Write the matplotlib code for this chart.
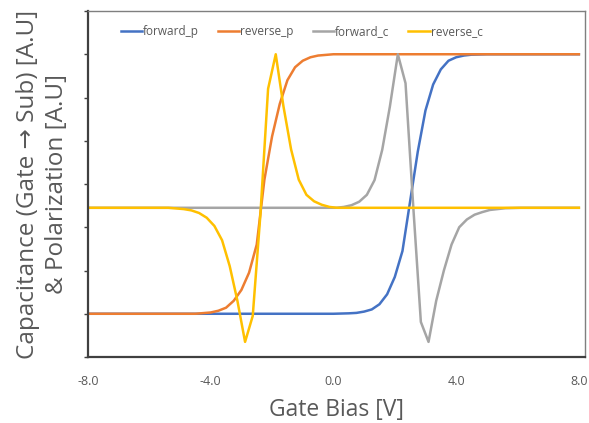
import numpy as np
import matplotlib.pyplot as plt

plt.rcParams['font.family'] = ['Open Sans', 'DejaVu Sans']

# data (y in arbitrary units, 0..8 axis)
fp_x = [-8, 0, 0.5, 0.75, 1.0, 1.25, 1.5, 1.75, 2.0, 2.25, 2.5, 2.75, 3.0,
        3.25, 3.5, 3.75, 4.0, 4.25, 4.5, 5.0, 8]
fp_y = [1.0, 1.0, 1.01, 1.02, 1.05, 1.1, 1.22, 1.45, 1.85, 2.45, 3.6, 4.75, 5.7,
        6.3, 6.65, 6.85, 6.93, 6.97, 6.99, 7.0, 7.0]

rp_x = [-8, -4.5, -4.0, -3.75, -3.5, -3.25, -3.0, -2.75, -2.5, -2.25, -2.0,
        -1.75, -1.5, -1.25, -1.0, -0.75, -0.5, 0, 8]
rp_y = [1.0, 1.0, 1.03, 1.07, 1.14, 1.3, 1.55, 1.95, 2.6, 4.1, 5.1,
        5.85, 6.4, 6.7, 6.85, 6.93, 6.97, 7.0, 7.0]

fc_x = [-8, 0.09, 0.34, 0.59, 0.84, 1.09, 1.34, 1.59, 1.84, 2.1, 2.35, 2.6,
        2.85, 3.1, 3.35, 3.6, 3.85, 4.1, 4.35, 4.6, 4.85, 5.1, 5.6, 6.1, 8]
fc_y = [3.45, 3.45, 3.47, 3.51, 3.59, 3.75, 4.09, 4.79, 5.79, 7.0, 6.33, 3.5,
        0.81, 0.35, 1.3, 2.0, 2.6, 3.0, 3.18, 3.29, 3.35, 3.4, 3.44, 3.45, 3.45]

rc_x = [-8, -5.38, -4.88, -4.63, -4.38, -4.13, -3.88, -3.63, -3.38, -3.13,
        -2.88, -2.63, -2.38, -2.13, -1.88, -1.63, -1.38, -1.13, -0.88, -0.63,
        -0.38, -0.13, 0.12, 8]
rc_y = [3.45, 3.45, 3.42, 3.39, 3.33, 3.22, 3.03, 2.7, 2.1, 1.3,
        0.35, 0.95, 3.3, 6.2, 7.0, 5.8, 4.8, 4.1, 3.75, 3.6,
        3.52, 3.47, 3.45, 3.45]

xticks = [-8, -4, 0, 4, 8]
xticklabels = ['-8.0', '-4.0', '0.0', '4.0', '8.0']

txt = '#595959'

fig = plt.figure(figsize=(5.89, 4.23), dpi=100)
ax = fig.add_axes([0.1494, 0.156, 0.8438, 0.818])

ax.plot(fp_x, fp_y, color='#4472C4', lw=1.8, label='forward_p')
ax.plot(rp_x, rp_y, color='#ED7D31', lw=1.8, label='reverse_p')
ax.plot(fc_x, fc_y, color='#A5A5A5', lw=1.8, label='forward_c')
ax.plot(rc_x, rc_y, color='#FFC000', lw=1.8, label='reverse_c')

ax.set_xlim(-8, 8.2)
ax.set_ylim(0, 8)
ax.set_xticks(xticks)
ax.set_xticklabels(xticklabels, color=txt, fontsize=9)
ax.set_yticks(range(0, 9))
ax.set_yticklabels([])
ax.tick_params(axis='y', direction='out', length=3, width=1, color='#404040')
ax.tick_params(axis='x', length=0, pad=13)

for s in ['top', 'right']:
    ax.spines[s].set_color('#7f7f7f')
    ax.spines[s].set_linewidth(1.0)
for s in ['left', 'bottom']:
    ax.spines[s].set_color('#404040')
    ax.spines[s].set_linewidth(1.6)

ax.set_xlabel('Gate Bias [V]', fontsize=16.5, color=txt, labelpad=7)
ax.set_ylabel('Capacitance (Gate \u2192 Sub) [A.U]\n& Polarization [A.U]',
              fontsize=17.5, color=txt, labelpad=7, linespacing=1.3)

ax.legend(loc='upper center', ncol=4, frameon=False, fontsize=8.5,
          labelcolor=txt, handlelength=1.8, handletextpad=0.1,
          columnspacing=1.6, bbox_to_anchor=(0.43, 0.99))

fig.savefig('out.png', dpi=100)
